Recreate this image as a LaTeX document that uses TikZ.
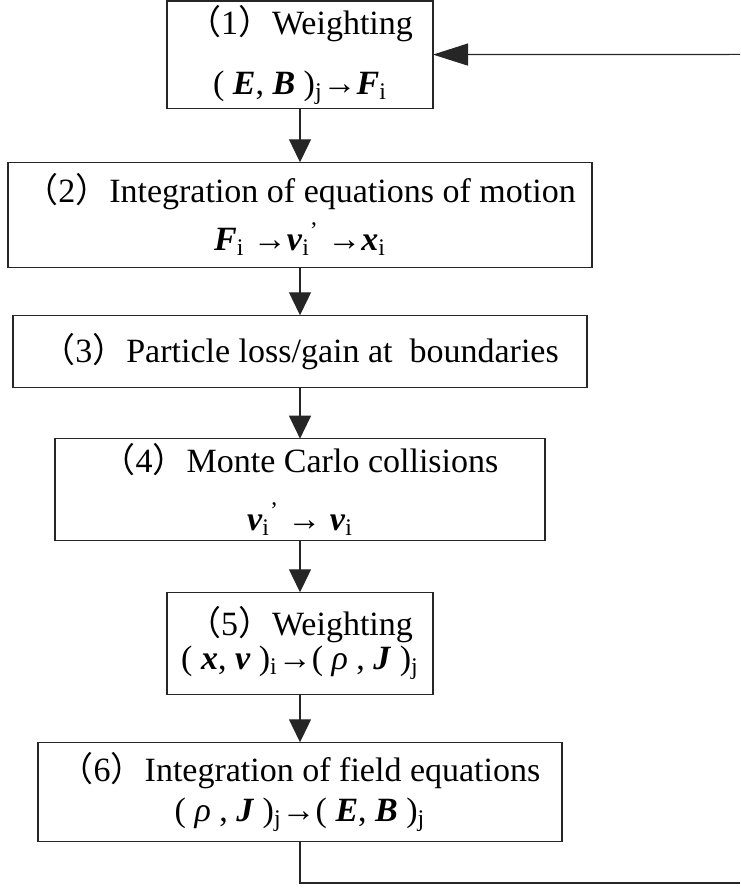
\documentclass[tikz,border=0pt]{standalone}
\usepackage{fontspec}
\setmainfont{Liberation Serif}
\newfontfamily\cjk{Noto Sans CJK SC}
\usetikzlibrary{arrows.meta,positioning}
\newcommand{\stepno}[1]{{\cjk （}#1{\cjk ）}}
\newcommand{\bsym}[1]{\textbf{\textit{#1}}}
\tikzset{
  stepbox/.style={draw=black!85, line width=0.6pt, fill=white, inner sep=2pt,
                  outer sep=0pt, align=center, font=\fontsize{17}{19}\selectfont},
  flow/.style={-{Triangle[length=11.5pt,width=11pt]}, line width=0.6pt, color=black!85},
  back/.style={-{Triangle[length=17.5pt,width=11pt]}, line width=0.6pt, color=black!85}}

\begin{document}
\begin{tikzpicture}
    \useasboundingbox (0,0) rectangle (370pt,-446pt);
    \node[stepbox, minimum width=133pt, minimum height=52pt] (weight) at (150pt,-27.3pt)
      {\stepno{1}Weighting\\[11pt]( \bsym{E}, \bsym{B} )\textsubscript{j}→\bsym{F}\textsubscript{i}};
    \node[stepbox, minimum width=292pt, minimum height=52.5pt, below=27pt of weight] (motion)
      {\stepno{2}Integration of equations of motion\\[5pt]\bsym{F}\textsubscript{i} →\bsym{v}\textsubscript{i}\textsuperscript{’} →\bsym{x}\textsubscript{i}};
    \node[stepbox, minimum width=287pt, minimum height=36pt, below=24pt of motion] (bound)
      {\stepno{3}Particle loss/gain at~ boundaries};
    \node[stepbox, minimum width=245pt, minimum height=51pt, below=25.7pt of bound] (mcc)
      {\stepno{4}Monte Carlo collisions\\[10pt]\bsym{v}\textsubscript{i}\textsuperscript{’} → \bsym{v}\textsubscript{i}};
    \node[stepbox, minimum width=133pt, minimum height=51pt, below=25.8pt of mcc] (charge)
      {\stepno{5}Weighting\\[-2pt]( \bsym{x}, \bsym{v} )\textsubscript{i}→( \textit{ρ} , \bsym{J} )\textsubscript{j}};
    \node[stepbox, minimum width=262pt, minimum height=49.5pt, below=24pt of charge] (field)
      {\stepno{6}Integration of field equations\\[1pt]( \textit{ρ} , \bsym{J} )\textsubscript{j}→( \bsym{E}, \bsym{B} )\textsubscript{j}};
    \coordinate (loopin) at (370pt,-27.2pt);
    \coordinate (loopout) at (370pt,-441.5pt);
    \draw[flow] (weight) -- (motion);
    \draw[flow] (motion) -- (bound);
    \draw[flow] (bound) -- (mcc);
    \draw[flow] (mcc) -- (charge);
    \draw[flow] (charge) -- (field);
    \draw[line width=0.6pt, black!85] (field.south) |- (loopout);
    \draw[back] (loopin) -- (weight.east);
  \end{tikzpicture}
\end{document}
